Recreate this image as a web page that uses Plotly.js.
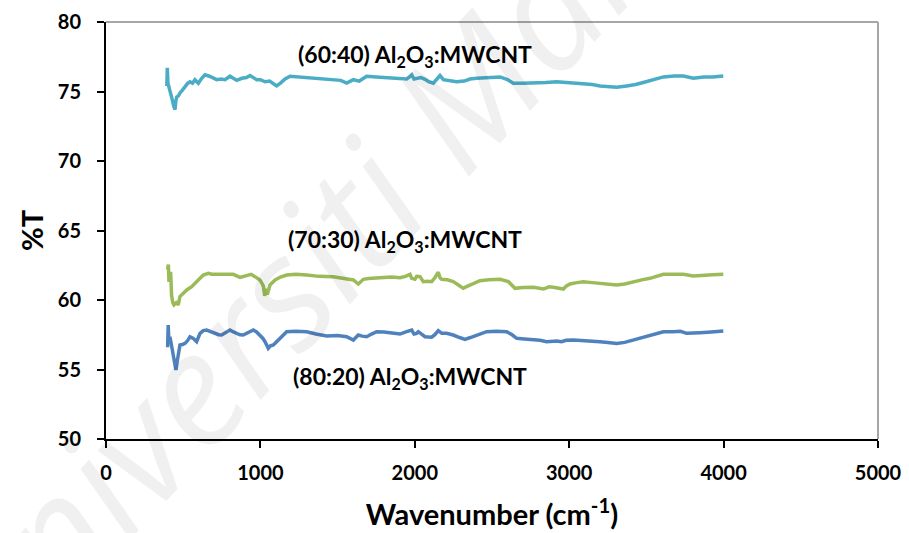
<!DOCTYPE html>
<html>
<head>
<meta charset="utf-8">
<script src="https://cdn.plot.ly/plotly-3.0.1.min.js"></script>
<style>
  html, body { margin: 0; padding: 0; background: #fff; }
  #chart { width: 909px; height: 533px; }
</style>
</head>
<body>
<div id="chart"></div>
<script>
// ---- Data ----
const seriesNames = [
  "(60:40) Al<sub>2</sub>O<sub>3</sub>:MWCNT",
  "(70:30) Al<sub>2</sub>O<sub>3</sub>:MWCNT",
  "(80:20) Al<sub>2</sub>O<sub>3</sub>:MWCNT"
];

const x6040 = [394,397,401,412,425,440,447,452,458,470,479,495,512,530,544,560,576,598,620,641,670,700,717,745,771,803,825,847,880,910,933,955,976,1000,1030,1060,1084,1105,1130,1160,1192,1250,1300,1343,1400,1472,1520,1559,1580,1602,1640,1688,1750,1800,1861,1900,1947,1965,1980,1995,2012,2040,2066,2090,2120,2140,2152,2163,2185,2228,2270,2320,2357,2400,2460,2520,2552,2600,2638,2700,2768,2850,2919,3000,3091,3150,3200,3250,3307,3372,3430,3480,3550,3610,3680,3739,3804,3870,3930,3998];
const y6040 = [75.4,76.7,75.6,75.0,74.6,73.9,73.7,74.3,74.6,74.7,74.9,75.1,75.35,75.6,75.7,75.6,75.85,75.6,75.95,76.2,76.1,75.9,75.85,75.9,75.85,76.1,75.95,75.8,75.95,76.0,76.15,76.0,75.85,75.85,75.7,75.75,75.6,75.4,75.6,75.9,76.1,76.05,76.0,75.95,75.95,75.9,75.8,75.6,75.75,75.85,75.75,76.1,76.05,76.0,75.95,75.95,75.9,76.05,76.2,75.9,75.95,76.0,75.88,75.7,75.6,75.85,76.0,76.15,75.85,75.8,75.7,75.75,75.9,75.95,76.0,76.0,76.05,75.85,75.6,75.6,75.6,75.65,75.7,75.65,75.55,75.5,75.4,75.35,75.3,75.4,75.5,75.65,75.85,76.05,76.12,76.12,75.95,76.05,76.05,76.12];

const x7030 = [399,404,408,413,419,425,433,440,455,468,479,500,523,555,580,609,630,663,685,706,740,780,824,868,911,940,965,997,1010,1019,1028,1036,1045,1062,1095,1130,1170,1230,1300,1380,1472,1540,1602,1634,1667,1700,1750,1796,1850,1904,1940,1969,1980,2001,2012,2034,2055,2080,2109,2130,2141,2152,2163,2174,2210,2249,2280,2314,2335,2380,2422,2480,2552,2606,2630,2649,2700,2768,2833,2870,2897,2940,2962,2980,3005,3050,3091,3150,3199,3250,3307,3360,3415,3470,3523,3570,3610,3680,3739,3804,3870,3930,3998];
const y7030 = [62.2,62.55,61.3,61.9,61.9,60.3,59.8,59.65,59.8,59.65,60.25,60.5,60.72,60.96,61.2,61.56,61.8,61.92,61.85,61.85,61.8,61.85,61.85,61.63,61.8,61.85,61.68,61.44,61.2,61.0,60.3,60.8,60.4,61.08,61.44,61.65,61.8,61.85,61.8,61.7,61.68,61.55,61.44,61.15,61.49,61.55,61.6,61.61,61.65,61.6,61.7,61.85,61.56,61.49,61.7,61.68,61.32,61.35,61.32,61.6,61.8,62.0,61.6,61.49,61.45,61.32,61.1,60.84,60.96,61.2,61.39,61.45,61.49,61.32,61.0,60.84,60.9,60.91,60.79,60.95,60.91,60.85,60.79,61.0,61.15,61.25,61.32,61.25,61.2,61.12,61.08,61.15,61.32,61.45,61.56,61.75,61.85,61.85,61.85,61.73,61.8,61.82,61.85];

const x8020 = [399,403,407,414,420,425,440,448,453,460,468,479,495,512,530,544,565,587,609,630,652,680,706,730,749,775,803,825,846,868,889,920,954,975,997,1015,1030,1040,1051,1065,1084,1105,1127,1150,1170,1230,1300,1360,1429,1500,1559,1602,1634,1660,1688,1720,1753,1800,1850,1904,1947,1980,1995,2012,2023,2045,2066,2109,2130,2152,2175,2206,2249,2290,2325,2360,2400,2465,2530,2595,2630,2660,2710,2768,2810,2854,2890,2919,2950,2980,3027,3080,3135,3200,3250,3307,3360,3415,3470,3523,3570,3610,3674,3720,3761,3800,3847,3920,3998];
const y8020 = [56.6,58.2,57.0,57.36,57.0,56.64,55.9,55.2,54.96,55.5,56.16,56.76,56.8,56.88,57.1,57.36,57.24,57.0,57.6,57.8,57.84,57.7,57.6,57.5,57.48,57.65,57.84,57.7,57.6,57.5,57.48,57.65,57.84,57.7,57.48,57.25,57.0,56.7,56.52,56.7,56.76,57.0,57.24,57.5,57.72,57.75,57.72,57.55,57.41,57.45,57.36,57.12,57.48,57.4,57.36,57.55,57.72,57.7,57.65,57.55,57.72,57.84,57.55,57.6,57.72,57.5,57.36,57.32,57.5,57.79,57.6,57.6,57.48,57.3,57.17,57.3,57.48,57.72,57.75,57.72,57.5,57.24,57.2,57.17,57.1,57.0,57.05,57.05,57.0,57.1,57.12,57.1,57.05,57.0,56.95,56.88,56.95,57.12,57.25,57.41,57.6,57.72,57.72,57.75,57.6,57.65,57.65,57.7,57.77];

const xTicks = [0, 1000, 2000, 3000, 4000, 5000];
const yTicks = [50, 55, 60, 65, 70, 75, 80];
const xTitle = "Wavenumber (cm<sup>-1</sup>)";
const yTitle = "%T";
const watermark = "Universiti Malaya";

// ---- Styles ----
const colors = ["#4bacc6", "#9bbb59", "#4f81bd"];
const fontFam = "Lato, 'Open Sans', sans-serif";

const traces = [
  {x: x6040, y: y6040, name: seriesNames[0]},
  {x: x7030, y: y7030, name: seriesNames[1]},
  {x: x8020, y: y8020, name: seriesNames[2]}
].map((t, i) => Object.assign(t, {
  type: "scatter", mode: "lines",
  line: {color: colors[i], width: 3.5},
  hoverinfo: "x+y"
}));

const labelFont = {family: fontFam, size: 23, color: "#000", weight: "bold"};

const layout = {
  width: 909, height: 533,
  margin: {l: 106, r: 31, t: 22, b: 94},
  paper_bgcolor: "#fff", plot_bgcolor: "rgba(0,0,0,0)",
  showlegend: false,
  xaxis: {
    range: [0, 5000], tickvals: xTicks, ticktext: xTicks.map(String),
    showgrid: false, zeroline: false,
    showline: true, linecolor: "#000", linewidth: 2,
    ticks: "outside", ticklen: 7, tickwidth: 2, tickcolor: "#000",
    ticklabelstandoff: 8,
    tickfont: {family: fontFam, size: 20, color: "#000", weight: "bold"},
    title: {text: xTitle, standoff: 22, font: {family: fontFam, size: 29, color: "#000", weight: "bold"}}
  },
  yaxis: {
    range: [50, 80], tickvals: yTicks, ticktext: yTicks.map(String),
    showgrid: false, zeroline: false,
    showline: true, linecolor: "#000", linewidth: 2,
    ticks: "outside", ticklen: 7, tickwidth: 2, tickcolor: "#000",
    ticklabelstandoff: 12,
    tickfont: {family: fontFam, size: 20, color: "#000", weight: "bold"},
    title: {text: yTitle, standoff: 6, font: {family: fontFam, size: 29, color: "#000", weight: "bold"}}
  },
  shapes: [
    {type: "line", xref: "paper", yref: "paper", x0: 0, x1: 1, y0: 1, y1: 1, line: {color: "#a6a6a6", width: 2}},
    {type: "line", xref: "paper", yref: "paper", x0: 1, x1: 1, y0: 0, y1: 1, line: {color: "#a6a6a6", width: 2}}
  ],
  annotations: [
    {text: watermark, xref: "paper", yref: "paper", x: 0.326, y: 0.561,
     xanchor: "center", yanchor: "middle", showarrow: false,
     textangle: -47, font: {family: "'Open Sans', sans-serif", size: 158, style: "italic", color: "rgba(0,0,0,0.06)"}},
    {text: seriesNames[0], x: 2000, y: 77.6, xref: "x", yref: "y", showarrow: false, font: labelFont},
    {text: seriesNames[1], x: 1937, y: 64.3, xref: "x", yref: "y", showarrow: false, font: labelFont},
    {text: seriesNames[2], x: 1969, y: 54.45, xref: "x", yref: "y", showarrow: false, font: labelFont}
  ]
};

Plotly.newPlot("chart", traces, layout, {displayModeBar: false, staticPlot: true});
</script>
</body>
</html>
